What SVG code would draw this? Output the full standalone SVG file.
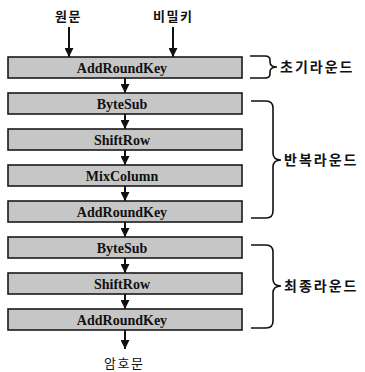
<svg xmlns="http://www.w3.org/2000/svg" width="365" height="372" viewBox="0 0 365 372">
<style>
.box{fill:#c6c6c6;stroke:#1a1a1a;stroke-width:1.6}
.bt{font-family:"Liberation Serif","Times New Roman",serif;font-weight:bold;font-size:14px;fill:#111;text-anchor:middle}
.kt{font-family:"Noto Sans CJK KR",sans-serif;font-weight:bold;font-size:13px;fill:#111;letter-spacing:1.5px}
.lt{font-family:"Noto Sans CJK KR",sans-serif;font-weight:bold;font-size:14px;fill:#111;letter-spacing:2px}
.ar{stroke:#111;stroke-width:2;fill:none}
.br{stroke:#111;stroke-width:1.6;fill:none}
</style>
<defs>
<marker id="ah" markerUnits="userSpaceOnUse" markerWidth="10" markerHeight="9" refX="9" refY="4.5" orient="auto">
<path d="M0,0 L9,4.5 L0,9 Z" fill="#111"/>
</marker>
</defs>
<g id="connectors">
<line class="ar" x1="69" y1="27" x2="69" y2="57" marker-end="url(#ah)"/>
<line class="ar" x1="173" y1="27" x2="173" y2="57" marker-end="url(#ah)"/>
<line class="ar" x1="125" y1="78" x2="125" y2="93" marker-end="url(#ah)"/>
<line class="ar" x1="125" y1="114" x2="125" y2="129" marker-end="url(#ah)"/>
<line class="ar" x1="125" y1="150" x2="125" y2="165" marker-end="url(#ah)"/>
<line class="ar" x1="125" y1="186" x2="125" y2="201" marker-end="url(#ah)"/>
<line class="ar" x1="125" y1="222" x2="125" y2="237" marker-end="url(#ah)"/>
<line class="ar" x1="125" y1="258" x2="125" y2="273" marker-end="url(#ah)"/>
<line class="ar" x1="125" y1="294" x2="125" y2="309" marker-end="url(#ah)"/>
<line class="ar" x1="125" y1="330" x2="125" y2="349" marker-end="url(#ah)"/>
</g>
<g id="in1"><text class="kt" x="55" y="21">원문</text></g>
<g id="in2"><text class="kt" x="153" y="21">비밀키</text></g>
<g id="n1"><rect class="box" x="8" y="57" width="234" height="21"/><text class="bt" x="122" y="72.5">AddRoundKey</text></g>
<g id="n2"><rect class="box" x="8" y="93" width="234" height="21"/><text class="bt" x="122" y="108.5">ByteSub</text></g>
<g id="n3"><rect class="box" x="8" y="129" width="234" height="21"/><text class="bt" x="122" y="144.5">ShiftRow</text></g>
<g id="n4"><rect class="box" x="8" y="165" width="234" height="21"/><text class="bt" x="122" y="180.5">MixColumn</text></g>
<g id="n5"><rect class="box" x="8" y="201" width="234" height="21"/><text class="bt" x="122" y="216.5">AddRoundKey</text></g>
<g id="n6"><rect class="box" x="8" y="237" width="234" height="21"/><text class="bt" x="122" y="252.5">ByteSub</text></g>
<g id="n7"><rect class="box" x="8" y="273" width="234" height="21"/><text class="bt" x="122" y="288.5">ShiftRow</text></g>
<g id="n8"><rect class="box" x="8" y="309" width="234" height="21"/><text class="bt" x="122" y="324.5">AddRoundKey</text></g>
<g id="out"><text class="kt" x="104" y="368" style="font-weight:normal">암호문</text></g>
<g id="brace1">
<path class="br" d="M250,56 H265 Q270,56 270,60 V62 Q270,67 277,67 Q270,67 270,72 V74 Q270,78 265,78 H250"/>
<text class="lt" x="280" y="72">초기라운드</text>
</g>
<g id="brace2">
<path class="br" d="M251,101 H266 Q273,101 273,108 V153 Q273,160 281,160 Q273,160 273,167 V211 Q273,218 266,218 H251"/>
<text class="lt" x="284" y="165">반복라운드</text>
</g>
<g id="brace3">
<path class="br" d="M251,245 H266 Q273,245 273,252 V279 Q273,286 281,286 Q273,286 273,293 V321 Q273,328 266,328 H251"/>
<text class="lt" x="284" y="291">최종라운드</text>
</g>
</svg>
